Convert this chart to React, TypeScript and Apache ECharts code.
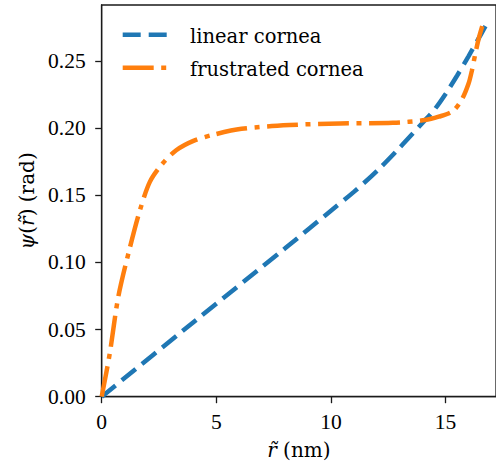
import React, { useEffect, useRef } from "react";
import * as echarts from "echarts";

// Radial coordinate r̃ (nm) and twist angle ψ (rad) for the two cornea models
const rLinear = [0, 4, 8, 10, 11, 12, 13, 14, 14.5, 15, 15.5, 16, 16.5, 16.74];
const psiLinear = [0, 0.0555, 0.1105, 0.1385, 0.1525, 0.168, 0.1855, 0.204, 0.2135, 0.2255, 0.239, 0.2535, 0.2685, 0.276];

const rFrustrated = [0, 0.35, 0.72, 1.2, 1.67, 2.1, 2.6, 3.25, 4.0, 4.85, 6.1, 8.2, 10.4, 12.7, 14.1, 14.7, 15.3, 15.7, 16.0, 16.15, 16.3, 16.45, 16.6];
const psiFrustrated = [0, 0.032, 0.074, 0.109, 0.139, 0.16, 0.1725, 0.1835, 0.1905, 0.195, 0.1995, 0.2023, 0.2035, 0.204, 0.206, 0.2085, 0.2125, 0.221, 0.233, 0.243, 0.2555, 0.267, 0.276];

const seriesNames = ["linear cornea", "frustrated cornea"];
const seriesColors = ["#1f77b4", "#ff7f0e"];
const seriesDashes = [
  [18, 8],
  [31, 7.5, 5, 7.5],
];
const xTicks = [0, 5, 10, 15];
const yTicks = [0, 0.05, 0.1, 0.15, 0.2, 0.25];

const pairs = (xs: number[], ys: number[]) => xs.map((x, i) => [x, ys[i]]);

const SERIF = "'DejaVu Serif', serif";
const TICK_FONT = "'Liberation Serif', serif";

export default function App() {
  const ref = useRef<HTMLDivElement>(null);

  useEffect(() => {
    if (!ref.current) return;
    const chart = echarts.init(ref.current, null, { renderer: "svg" });
    const ink = "#1a1a1a";

    // Legend drawn as dashed handles with labels, top-left inside the axes
    const legendItems: any[] = [];
    seriesNames.forEach((name, i) => {
      const y = 34.7 + i * 33;
      legendItems.push({
        type: "line",
        shape: { x1: 122.7, y1: y, x2: 166.7, y2: y },
        style: {
          stroke: seriesColors[i],
          lineWidth: 4.5,
          lineDash: seriesDashes[i],
          lineCap: "butt",
        },
      });
      legendItems.push({
        type: "text",
        x: 190,
        y: y + 1.5,
        style: {
          text: name,
          fontFamily: SERIF,
          fontSize: 19.5,
          fill: "#000",
          verticalAlign: "middle",
          align: "left",
        },
      });
    });

    chart.setOption({
      animation: false,
      backgroundColor: "#ffffff",
      textStyle: { fontFamily: TICK_FONT },
      grid: {
        left: 101.7,
        top: 5,
        right: -1.3,
        bottom: 73.3,
        show: true,
        borderColor: ink,
        borderWidth: 1.3,
        containLabel: false,
      },
      graphic: legendItems,
      xAxis: {
        type: "value",
        min: 0,
        max: 17.2,
        interval: 5,
        splitLine: { show: false },
        axisLine: { show: true, lineStyle: { color: ink, width: 1.3 } },
        axisTick: {
          show: true,
          length: 6.5,
          customValues: xTicks,
          lineStyle: { color: ink, width: 1.3 },
        },
        axisLabel: {
          customValues: xTicks,
          margin: 14,
          fontFamily: TICK_FONT,
          fontSize: 21.5,
          color: "#000",
          formatter: (v: number) => String(v),
        },
        name: "{i|r̃} {n|(nm)}",
        nameLocation: "middle",
        nameGap: 43,
        nameTextStyle: {
          fontFamily: SERIF,
          fontSize: 20,
          color: "#000",
          rich: {
            i: { fontFamily: SERIF, fontStyle: "italic", fontSize: 20, color: "#000" },
            n: { fontFamily: SERIF, fontSize: 20, color: "#000" },
          },
        },
      },
      yAxis: {
        type: "value",
        min: 0,
        max: 0.2917,
        interval: 0.05,
        splitLine: { show: false },
        axisLine: { show: true, lineStyle: { color: ink, width: 1.3 } },
        axisTick: {
          show: true,
          length: 6.5,
          customValues: yTicks,
          lineStyle: { color: ink, width: 1.3 },
        },
        axisLabel: {
          customValues: yTicks,
          margin: 16,
          fontFamily: TICK_FONT,
          fontSize: 21.5,
          color: "#000",
          formatter: (v: number) => v.toFixed(2),
        },
        name: "{i|ψ}{n|(}{i|r̃}{n|) (rad)}",
        nameLocation: "middle",
        nameGap: 63,
        nameRotate: 90,
        nameTextStyle: {
          fontFamily: SERIF,
          fontSize: 20,
          color: "#000",
          rich: {
            i: { fontFamily: SERIF, fontStyle: "italic", fontSize: 20, color: "#000" },
            n: { fontFamily: SERIF, fontSize: 20, color: "#000" },
          },
        },
      },
      series: [0, 1].map((i) => ({
        name: seriesNames[i],
        type: "line",
        data: i === 0 ? pairs(rLinear, psiLinear) : pairs(rFrustrated, psiFrustrated),
        symbol: "none",
        smooth: 0.3,
        color: seriesColors[i],
        lineStyle: { color: seriesColors[i], width: 4.5, type: seriesDashes[i], cap: "butt" },
        z: 3 + i,
      })),
    });
    return () => chart.dispose();
  }, []);

  return (
    <div
      ref={ref}
      style={{ position: "fixed", left: 0, top: 0, width: 496, height: 470, background: "#fff" }}
    />
  );
}
